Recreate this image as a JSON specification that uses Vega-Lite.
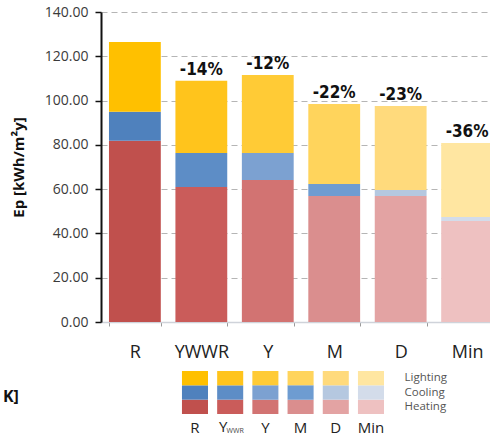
{
  "$schema": "https://vega.github.io/schema/vega-lite/v6.json",
  "padding": {"left": 2, "top": 5, "right": 0, "bottom": 0},
  "bounds": "flush",
  "spacing": 49,
  "config": {"view": {"stroke": null}, "font": "Open Sans"},
  "datasets": {
    "bars": [
      {"cat": "R", "comp": "Heating", "s": 1, "value": 81.8, "key": "R|Heating"},
      {"cat": "R", "comp": "Cooling", "s": 2, "value": 13.1, "key": "R|Cooling"},
      {"cat": "R", "comp": "Lighting", "s": 3, "value": 31.6, "key": "R|Lighting"},
      {"cat": "YWWR", "comp": "Heating", "s": 1, "value": 61.0, "key": "YWWR|Heating"},
      {"cat": "YWWR", "comp": "Cooling", "s": 2, "value": 15.3, "key": "YWWR|Cooling"},
      {"cat": "YWWR", "comp": "Lighting", "s": 3, "value": 32.6, "key": "YWWR|Lighting"},
      {"cat": "Y", "comp": "Heating", "s": 1, "value": 64.1, "key": "Y|Heating"},
      {"cat": "Y", "comp": "Cooling", "s": 2, "value": 12.2, "key": "Y|Cooling"},
      {"cat": "Y", "comp": "Lighting", "s": 3, "value": 35.3, "key": "Y|Lighting"},
      {"cat": "M", "comp": "Heating", "s": 1, "value": 56.9, "key": "M|Heating"},
      {"cat": "M", "comp": "Cooling", "s": 2, "value": 5.4, "key": "M|Cooling"},
      {"cat": "M", "comp": "Lighting", "s": 3, "value": 36.2, "key": "M|Lighting"},
      {"cat": "D", "comp": "Heating", "s": 1, "value": 56.9, "key": "D|Heating"},
      {"cat": "D", "comp": "Cooling", "s": 2, "value": 2.7, "key": "D|Cooling"},
      {"cat": "D", "comp": "Lighting", "s": 3, "value": 38.0, "key": "D|Lighting"},
      {"cat": "Min", "comp": "Heating", "s": 1, "value": 45.6, "key": "Min|Heating"},
      {"cat": "Min", "comp": "Cooling", "s": 2, "value": 1.8, "key": "Min|Cooling"},
      {"cat": "Min", "comp": "Lighting", "s": 3, "value": 33.4, "key": "Min|Lighting"}
    ],
    "pcts": [
      {"cat": "YWWR", "pct": "-14%", "total": 108.9},
      {"cat": "Y", "pct": "-12%", "total": 111.6},
      {"cat": "M", "pct": "-22%", "total": 98.5},
      {"cat": "D", "pct": "-23%", "total": 97.6},
      {"cat": "Min", "pct": "-36%", "total": 80.8}
    ]
  },
  "vconcat": [
    {
      "width": 400,
      "height": 310,
      "layer": [
        {
          "data": {"name": "bars"},
          "mark": {"type": "bar"},
          "encoding": {
            "x": {
              "field": "cat", "type": "nominal", "title": null,
              "scale": {"domain": ["R", "YWWR", "Y", "M", "D", "Min"], "paddingInner": 0.22, "paddingOuter": 0.12},
              "axis": {
                "labelAngle": 0, "labelFontSize": 18, "labelColor": "#222222", "labelPadding": 17,
                "domain": true, "domainColor": "#cfd3da", "domainWidth": 1.5,
                "ticks": true, "tickBand": "extent", "tickColor": "#9a9a9a", "tickSize": 4
              }
            },
            "y": {
              "field": "value", "type": "quantitative", "stack": "zero",
              "scale": {"domain": [0, 140]},
              "axis": {
                "values": [0, 20, 40, 60, 80, 100, 120, 140], "format": ".2f",
                "labelFontSize": 14, "labelColor": "#3a3a3a", "labelPadding": 7,
                "domain": true, "domainColor": "#111111", "domainWidth": 2,
                "tickColor": "#111111", "tickSize": 6, "tickWidth": 1.5,
                "grid": true, "gridColor": "#b5b5b5", "gridDash": [6, 4], "gridWidth": 1,
                "title": "Ep [kWh/m²y]", "titleFontSize": 15, "titleFontWeight": "bold",
                "titleColor": "#111111", "titlePadding": 18
              }
            },
            "color": {
              "field": "key", "type": "nominal", "legend": null,
              "scale": {
                "domain": ["R|Heating", "R|Cooling", "R|Lighting", "YWWR|Heating", "YWWR|Cooling", "YWWR|Lighting", "Y|Heating", "Y|Cooling", "Y|Lighting", "M|Heating", "M|Cooling", "M|Lighting", "D|Heating", "D|Cooling", "D|Lighting", "Min|Heating", "Min|Cooling", "Min|Lighting"],
                "range": ["#C0504D", "#4F81BD", "#FFC000", "#CA5C5A", "#5D8DC6", "#FFC41C", "#D27372", "#7CA1D1", "#FFCB36", "#DA8E8E", "#6E9CD1", "#FFD45C", "#E3A3A3", "#B5C8E0", "#FFDA7C", "#EEC1C1", "#D3DCEA", "#FFE6A1"]
              }
            },
            "order": {"field": "s", "type": "quantitative"}
          }
        },
        {
          "data": {"name": "pcts"},
          "mark": {"type": "text", "baseline": "bottom", "dy": -2, "font": "Liberation Sans Narrow, DejaVu Sans Condensed, Roboto", "fontWeight": "bold", "fontSize": 17, "color": "#111111"},
          "encoding": {
            "x": {"field": "cat", "type": "nominal"},
            "y": {"field": "total", "type": "quantitative"},
            "text": {"field": "pct"}
          }
        }
      ]
    },
    {
      "width": 283,
      "height": 43,
      "layer": [
        {
          "data": {"name": "bars"},
          "mark": {"type": "bar"},
          "encoding": {
            "x": {
              "field": "cat", "type": "nominal", "title": null,
              "scale": {"domain": [" ", "R", "YWWR", "Y", "M", "D", "Min"], "paddingInner": 0.26, "paddingOuter": 0.65, "align": 1},
              "axis": {
                "labelAngle": 0, "labelFontSize": 15, "labelColor": "#222222", "labelPadding": 6,
                "domain": false, "ticks": false,
                "labelExpr": "datum.value == 'YWWR' ? '' : datum.value"
              }
            },
            "y": {
              "field": "comp", "type": "nominal", "title": null,
              "scale": {"domain": ["Lighting", "Cooling", "Heating"], "paddingInner": 0, "paddingOuter": 0},
              "axis": {
                "orient": "right", "domain": false, "ticks": false, "labelPadding": 20,
                "labelFontSize": 11.5, "labelColor": "#555555"
              }
            },
            "color": {"field": "key", "type": "nominal", "legend": null}
          }
        },
        {
          "data": {"values": [{}]},
          "mark": {"type": "text", "text": "Y", "fontSize": 15, "color": "#222222", "baseline": "top", "dx": -7, "dy": 13},
          "encoding": {"x": {"datum": "YWWR"}, "y": {"datum": "Heating"}}
        },
        {
          "data": {"values": [{}]},
          "mark": {"type": "text", "text": "WWR", "fontSize": 7, "color": "#444444", "baseline": "top", "dx": 5, "dy": 20},
          "encoding": {"x": {"datum": "YWWR"}, "y": {"datum": "Heating"}}
        },
        {
          "data": {"values": [{}]},
          "mark": {"type": "text", "text": "K]", "align": "left", "fontSize": 16, "fontWeight": "bold", "color": "#111111", "dx": -192, "dy": 4},
          "encoding": {"x": {"datum": "R"}, "y": {"datum": "Cooling"}}
        }
      ]
    }
  ]
}
